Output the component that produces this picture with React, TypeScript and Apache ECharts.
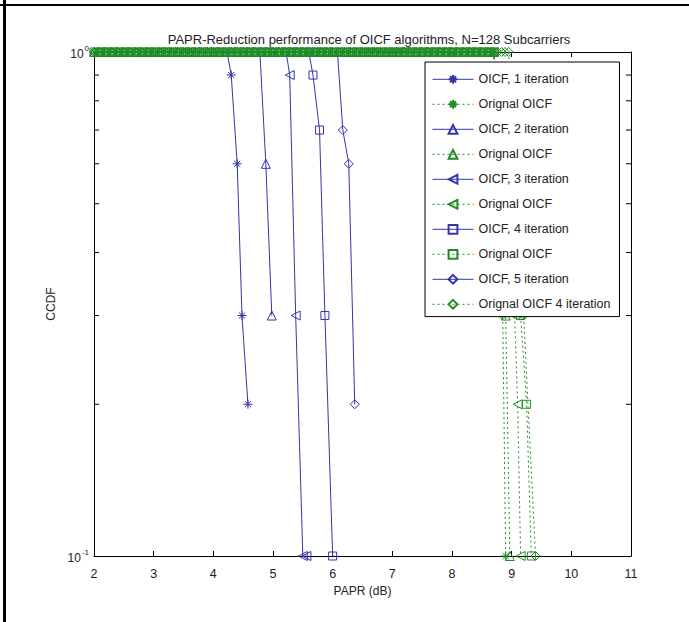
import React, { useEffect, useRef } from "react";
import * as echarts from "echarts";

const titleText = "PAPR-Reduction performance of OICF algorithms, N=128 Subcarriers";
const xLabel = "PAPR (dB)";
const yLabel = "CCDF";
const xTickMin = 2;
const xTickMax = 11;
const yMinorTicks = [0.2, 0.3, 0.4, 0.5, 0.6, 0.7, 0.8, 0.9];

const blueNames = ["OICF, 1 iteration", "OICF, 2 iteration", "OICF, 3 iteration", "OICF, 4 iteration", "OICF, 5 iteration"];
const greenNames = ["Orignal OICF", "Orignal OICF", "Orignal OICF", "Orignal OICF", "Orignal OICF 4 iteration"];

// Reduced-PAPR curves
const iter1 = [[4.23, 1], [4.3, 0.9], [4.4, 0.6], [4.48, 0.3], [4.58, 0.2]];
const iter2 = [[4.78, 1], [4.88, 0.6], [4.98, 0.3]];
const iter3 = [[5.22, 1], [5.28, 0.9], [5.38, 0.3], [5.5, 0.1], [5.56, 0.1]];
const iter4 = [[5.6, 1], [5.67, 0.9], [5.78, 0.7], [5.87, 0.3], [6.0, 0.1]];
const iter5 = [[6.08, 1], [6.17, 0.7], [6.27, 0.6], [6.37, 0.2]];

// Original curves: flat at CCDF = 1 on the PAPR grid, then drop
const paprGrid = [
  2.0, 2.1, 2.2, 2.3, 2.4, 2.5, 2.6, 2.7, 2.8, 2.9,
  3.0, 3.1, 3.2, 3.3, 3.4, 3.5, 3.6, 3.7, 3.8, 3.9,
  4.0, 4.1, 4.2, 4.3, 4.4, 4.5, 4.6, 4.7, 4.8, 4.9,
  5.0, 5.1, 5.2, 5.3, 5.4, 5.5, 5.6, 5.7, 5.8, 5.9,
  6.0, 6.1, 6.2, 6.3, 6.4, 6.5, 6.6, 6.7, 6.8, 6.9,
  7.0, 7.1, 7.2, 7.3, 7.4, 7.5, 7.6, 7.7, 7.8, 7.9,
  8.0, 8.1, 8.2, 8.3, 8.4, 8.5, 8.6, 8.7,
];
const orig1Tail = [[8.85, 0.3], [8.9, 0.1]];
const orig2Tail = [[8.9, 0.3], [8.97, 0.1]];
const orig3Tail = [[9.05, 0.3], [9.1, 0.2], [9.15, 0.1]];
const orig4Tail = [[9.15, 0.3], [9.25, 0.2], [9.33, 0.1]];
const orig5Tail = [[8.76, 1], [8.83, 1], [8.89, 1], [8.95, 1], [9.2, 0.3], [9.4, 0.1]];

const BLUE = "#3434ac";
const GREEN = "#1f8c26";
const DOTS = [2, 3];
const FONT = "Liberation Sans, Arial, sans-serif";

const asterisk = "path://M5,0L5,10M0,5L10,5M1.6,1.6L8.4,8.4M1.6,8.4L8.4,1.6";

export default function App() {
  const ref = useRef<HTMLDivElement>(null);
  useEffect(() => {
    document.body.style.margin = "0";
    const chart = echarts.init(ref.current!, null, { renderer: "svg" });

    const blueData = [iter1, iter2, iter3, iter4, iter5];
    const greenTails = [orig1Tail, orig2Tail, orig3Tail, orig4Tail, orig5Tail];
    const symbols = [asterisk, "triangle", "triangle", "rect", "diamond"];
    const rotates = [0, 0, 90, 0, 0];
    const sizes = [9, 9, 9, 8, 9];

    const series: any[] = [];
    const legendData: any[] = [];
    for (let i = 0; i < 5; i++) {
      const bd = blueData[i].map((p, k) =>
        k === 0 ? { value: p, symbol: "none" } : { value: p }
      );
      series.push({
        name: blueNames[i],
        type: "line",
        data: bd,
        symbol: symbols[i],
        symbolRotate: rotates[i],
        symbolSize: sizes[i],
        showAllSymbol: true,
        clip: false,
        z: 2,
        lineStyle: { color: BLUE, width: 1 },
        itemStyle: { color: "rgba(255,255,255,0)", borderColor: BLUE, borderWidth: 1 },
      });
      legendData.push({ name: blueNames[i], lineStyle: { color: BLUE, width: 1, type: "solid" } });
      const gName = greenNames[i] + (i < 4 ? "\u200b".repeat(i) : "");
      const gd = paprGrid.map((x) => [x, 1]).concat(greenTails[i]);
      series.push({
        name: gName,
        type: "line",
        data: gd,
        symbol: symbols[i],
        symbolRotate: rotates[i],
        symbolSize: sizes[i],
        showAllSymbol: true,
        clip: false,
        z: 3,
        lineStyle: { color: GREEN, width: 1, type: DOTS },
        itemStyle: { color: "rgba(255,255,255,0)", borderColor: GREEN, borderWidth: 1 },
      });
      legendData.push({ name: gName, lineStyle: { color: GREEN, width: 1, type: DOTS } });
    }

    series.push({
      type: "custom",
      silent: true,
      data: yMinorTicks.map((v) => [v]),
      renderItem: (params: any, api: any) => {
        const v = api.value(0);
        const l = api.coord([xTickMin, v]);
        const r = api.coord([xTickMax, v]);
        return {
          type: "group",
          children: [
            { type: "line", shape: { x1: l[0], y1: l[1], x2: l[0] + 5, y2: l[1] }, style: { stroke: "#000", lineWidth: 1 } },
            { type: "line", shape: { x1: r[0] - 5, y1: r[1], x2: r[0], y2: r[1] }, style: { stroke: "#000", lineWidth: 1 } },
          ],
        };
      },
      z: 1,
    });

    const supLabel = (v: number) => (v >= 1 ? "{b|10}{s|0}" : "{b|10}{s|-1}");

    chart.setOption({
      animation: false,
      backgroundColor: "#fff",
      title: {
        text: titleText,
        left: 364,
        top: 28,
        textAlign: "center",
        textStyle: { fontFamily: FONT, fontSize: 13, fontWeight: "normal", color: "#222" },
      },
      grid: { left: 94, right: 58, top: 52, bottom: 66, containLabel: false },
      legend: {
        data: legendData,
        orient: "vertical",
        left: 425,
        top: 62,
        itemWidth: 41,
        itemHeight: 11,
        itemGap: 10.4,
        padding: [10, 9, 5, 7],
        backgroundColor: "#fff",
        borderColor: "#000",
        borderWidth: 1,
        borderRadius: 0,
        selectedMode: false,
        textStyle: { fontFamily: FONT, fontSize: 12.5, lineHeight: 14.6, color: "#222" },
        formatter: (n: string) => n.replace(/\u200b/g, ""),
      },
      xAxis: [
        {
          type: "value",
          min: xTickMin,
          max: xTickMax,
          interval: 1,
          name: xLabel,
          nameLocation: "middle",
          nameGap: 28,
          nameTextStyle: { fontFamily: FONT, fontSize: 12, color: "#222" },
          axisLine: { lineStyle: { color: "#000", width: 1 } },
          axisTick: { inside: true, length: 5, lineStyle: { color: "#000" } },
          axisLabel: { margin: 11, fontFamily: FONT, fontSize: 12.5, color: "#222" },
          splitLine: { show: false },
        },
        {
          type: "value",
          position: "top",
          min: xTickMin,
          max: xTickMax,
          interval: 1,
          axisLine: { lineStyle: { color: "#000", width: 1 } },
          axisTick: { inside: true, length: 5, lineStyle: { color: "#000" } },
          axisLabel: { show: false },
          splitLine: { show: false },
        },
      ],
      yAxis: [
        {
          type: "log",
          logBase: 10,
          min: 0.1,
          max: 1,
          name: yLabel,
          nameLocation: "middle",
          nameGap: 31,
          nameTextStyle: { fontFamily: FONT, fontSize: 12, color: "#222" },
          axisLine: { lineStyle: { color: "#000", width: 1 } },
          axisTick: { inside: true, length: 5, lineStyle: { color: "#000" } },
          axisLabel: {
            margin: 5,
            formatter: supLabel,
            rich: {
              b: { fontFamily: FONT, fontSize: 12, color: "#222", padding: [4, 0, 0, 0] },
              s: { fontFamily: FONT, fontSize: 8, color: "#222", verticalAlign: "top", padding: [0, 0, 6, 1] },
            },
          },
          splitLine: { show: false },
        },
        {
          type: "log",
          logBase: 10,
          min: 0.1,
          max: 1,
          position: "right",
          axisLine: { lineStyle: { color: "#000", width: 1 } },
          axisTick: { inside: true, length: 5, lineStyle: { color: "#000" } },
          axisLabel: { show: false },
          splitLine: { show: false },
        },
      ],
      graphic: [
        { type: "line", shape: { x1: 4.5, y1: 0, x2: 4.5, y2: 622 }, style: { stroke: "#000", lineWidth: 3 } },
        { type: "line", shape: { x1: 0, y1: 5, x2: 689, y2: 5 }, style: { stroke: "#000", lineWidth: 2 } },
      ],
      series,
    });
    return () => chart.dispose();
  }, []);
  return <div ref={ref} style={{ width: 689, height: 622 }} />;
}
